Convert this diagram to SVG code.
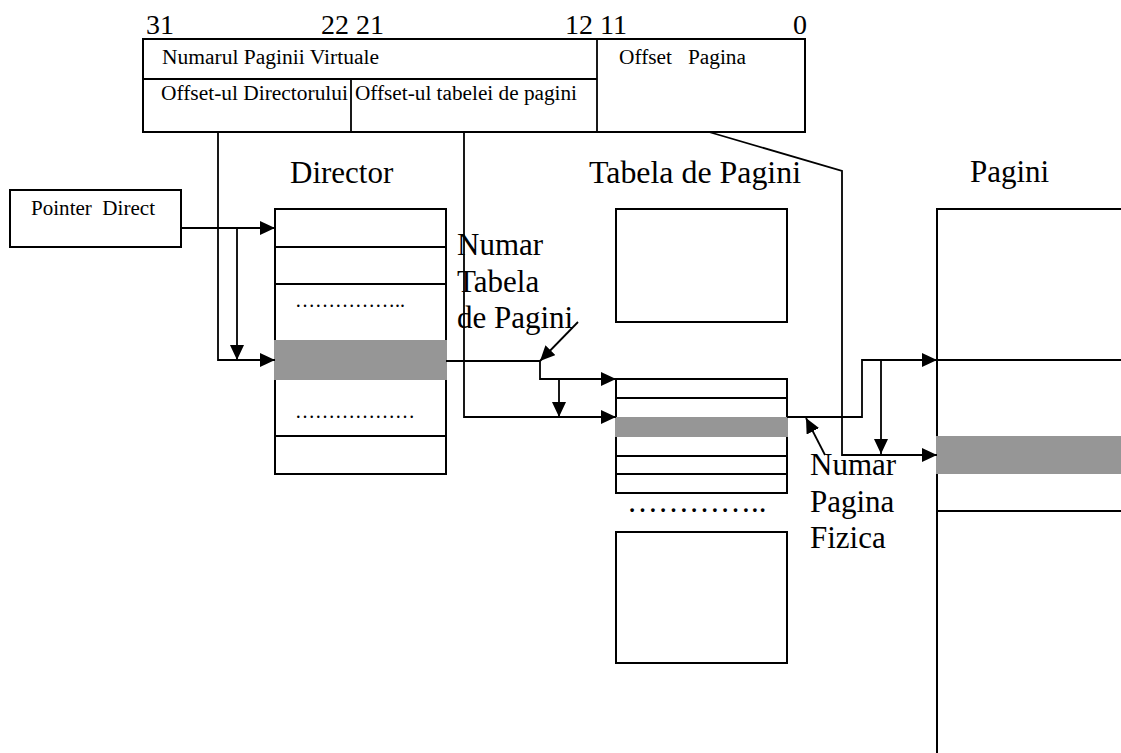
<svg xmlns="http://www.w3.org/2000/svg" width="1121" height="753" viewBox="0 0 1121 753">
<style>
.box{fill:none;stroke:#000;stroke-width:2}
.ln{fill:none;stroke:#000;stroke-width:1.8}
.gray{fill:#969696;stroke:none}
.arr{fill:none;stroke:#000;stroke-width:1.8;marker-end:url(#ah)}
text{font-family:"Liberation Serif","Times New Roman",serif;fill:#000}
.s{font-size:20px}
.b{font-size:31px}
.d{font-size:28px}
</style>
<defs>
<marker id="ah" markerUnits="userSpaceOnUse" markerWidth="16" markerHeight="14" refX="15" refY="7" orient="auto">
<path d="M0,0 L15,7 L0,14 z" fill="#000"/>
</marker>
</defs>
<rect width="1121" height="753" fill="#fff"/>

<g id="address">
<text class="d" x="146" y="34">31</text>
<text class="d" x="321" y="34">22 21</text>
<text class="d" x="565" y="34">12 11</text>
<text class="d" x="807" y="34" text-anchor="end">0</text>
<rect class="box" x="143" y="39" width="662" height="93"/>
<line class="ln" x1="143" y1="79" x2="597" y2="79"/>
<line class="ln" x1="597" y1="39" x2="597" y2="132"/>
<line class="ln" x1="351" y1="79" x2="351" y2="132"/>
<text class="s" x="162" y="64" textLength="217" lengthAdjust="spacingAndGlyphs">Numarul Paginii Virtuale</text>
<text class="s" x="619" y="64" textLength="127" lengthAdjust="spacingAndGlyphs" xml:space="preserve">Offset   Pagina</text>
<text class="s" x="161" y="100" textLength="187" lengthAdjust="spacingAndGlyphs">Offset-ul Directorului</text>
<text class="s" x="355" y="100" textLength="222" lengthAdjust="spacingAndGlyphs">Offset-ul tabelei de pagini</text>
</g>

<g id="pointer-direct">
<rect class="box" x="10" y="190" width="171" height="57"/>
<text class="s" x="31" y="215" textLength="124" lengthAdjust="spacingAndGlyphs" xml:space="preserve">Pointer  Direct</text>
</g>

<g id="director">
<text class="b" x="290" y="183">Director</text>
<rect class="box" x="275" y="209" width="171" height="265"/>
<line class="ln" x1="275" y1="247" x2="446" y2="247"/>
<line class="ln" x1="275" y1="284" x2="446" y2="284"/>
<line class="ln" x1="275" y1="436" x2="446" y2="436"/>
<rect class="gray" x="274" y="340" width="173" height="40"/>
<text class="s" x="295" y="307">……………..</text>
<text class="s" x="295" y="418">………………</text>
</g>

<g id="tabela">
<text class="b" x="589" y="183" textLength="212" lengthAdjust="spacingAndGlyphs">Tabela de Pagini</text>
<rect class="box" x="616" y="209" width="171" height="113"/>
<rect class="box" x="616" y="379" width="171" height="114"/>
<line class="ln" x1="616" y1="398" x2="787" y2="398"/>
<line class="ln" x1="616" y1="456" x2="787" y2="456"/>
<line class="ln" x1="616" y1="474" x2="787" y2="474"/>
<rect class="gray" x="615" y="417" width="173" height="20"/>
<text class="b" x="627" y="512">…………..</text>
<rect class="box" x="616" y="532" width="171" height="131"/>
</g>

<g id="pagini">
<text class="b" x="970" y="182">Pagini</text>
<polyline class="box" points="1121,209 937,209 937,753"/>
<line class="ln" x1="937" y1="360" x2="1121" y2="360"/>
<rect class="gray" x="936" y="436" width="185" height="38"/>
<line class="ln" x1="937" y1="511" x2="1121" y2="511"/>
</g>

<g id="label-numar-tabela">
<text class="b" x="457" y="255">Numar</text>
<text class="b" x="457" y="292">Tabela</text>
<text class="b" x="457" y="328">de Pagini</text>
</g>

<g id="label-numar-pagina">
<text class="b" x="810" y="475">Numar</text>
<text class="b" x="810" y="512">Pagina</text>
<text class="b" x="810" y="548">Fizica</text>
</g>

<g id="connectors">
<polyline class="arr" points="181,228 275,228"/>
<polyline class="arr" points="237,228 237,360"/>
<polyline class="arr" points="218,132 218,360 275,360"/>
<polyline class="arr" points="446,361 540,361 540,379 616,379"/>
<polyline class="arr" points="559,379 559,417"/>
<polyline class="arr" points="464,132 464,417 616,417"/>
<polyline class="arr" points="787,417 862,417 862,360 937,360"/>
<polyline class="arr" points="881,360 881,454"/>
<polyline class="arr" points="709,132 842,171 842,455 937,455"/>
<polyline class="arr" points="578,322 540,361"/>
<polyline class="arr" points="825,455 806,418"/>
</g>
</svg>
